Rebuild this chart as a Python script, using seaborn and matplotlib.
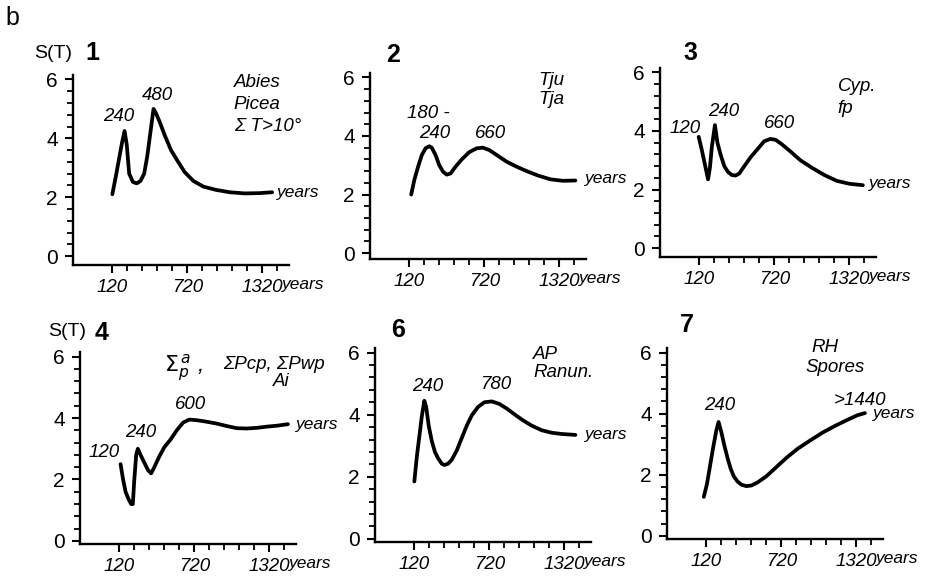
import matplotlib

matplotlib.use("Agg")

import matplotlib.pyplot as plt
import numpy as np
import seaborn as sns

# ── data: S(T) curves ──
x1 = [120, 150, 180, 200, 218, 235, 255, 285, 315, 345, 375, 400, 425, 450, 470, 500, 540, 590, 640, 700, 770, 850, 950, 1060, 1180, 1300, 1400]
y1 = [2.1, 2.75, 3.45, 3.9, 4.25, 3.8, 2.8, 2.52, 2.47, 2.55, 2.8, 3.4, 4.2, 5.0, 4.85, 4.55, 4.1, 3.6, 3.25, 2.85, 2.55, 2.36, 2.25, 2.17, 2.13, 2.14, 2.17]

x2 = [135, 160, 190, 220, 250, 280, 300, 330, 360, 390, 420, 450, 490, 540, 600, 660, 710, 760, 820, 900, 980, 1060, 1150, 1250, 1350, 1450]
y2 = [2.0, 2.5, 2.95, 3.35, 3.58, 3.65, 3.6, 3.35, 3.0, 2.78, 2.68, 2.72, 2.95, 3.2, 3.45, 3.58, 3.6, 3.52, 3.35, 3.12, 2.95, 2.8, 2.65, 2.52, 2.47, 2.48]

x3 = [115, 140, 165, 190, 205, 220, 245, 265, 290, 320, 350, 380, 410, 440, 480, 530, 590, 640, 690, 730, 780, 850, 930, 1020, 1120, 1220, 1320, 1430]
y3 = [3.8, 3.35, 2.85, 2.35, 2.75, 3.45, 4.2, 3.6, 3.2, 2.8, 2.6, 2.5, 2.48, 2.55, 2.8, 3.1, 3.4, 3.65, 3.73, 3.7, 3.55, 3.3, 3.0, 2.75, 2.5, 2.3, 2.2, 2.15]

x4 = [130, 150, 170, 195, 215, 228, 240, 255, 268, 290, 320, 350, 375, 400, 440, 480, 530, 580, 630, 680, 740, 820, 900, 980, 1060, 1140, 1220, 1300, 1380, 1470]
y4 = [2.5, 2.0, 1.6, 1.35, 1.2, 1.2, 2.0, 2.8, 3.0, 2.8, 2.55, 2.3, 2.2, 2.4, 2.75, 3.05, 3.3, 3.6, 3.85, 3.95, 3.93, 3.88, 3.82, 3.74, 3.67, 3.66, 3.68, 3.72, 3.75, 3.8]

x6 = [120, 140, 160, 180, 200, 215, 235, 260, 285, 310, 340, 360, 390, 420, 460, 500, 540, 580, 630, 680, 740, 800, 860, 920, 990, 1060, 1140, 1220, 1300, 1410]
y6 = [1.85, 2.65, 3.3, 3.95, 4.45, 4.25, 3.65, 3.15, 2.8, 2.6, 2.42, 2.38, 2.42, 2.55, 2.85, 3.25, 3.65, 3.98, 4.25, 4.4, 4.43, 4.35, 4.2, 4.02, 3.82, 3.65, 3.5, 3.42, 3.38, 3.35]

x7 = [100, 125, 150, 175, 200, 218, 240, 265, 290, 315, 340, 370, 400, 440, 480, 530, 600, 680, 760, 850, 950, 1050, 1150, 1250, 1330, 1390]
y7 = [1.28, 1.7, 2.3, 2.9, 3.45, 3.73, 3.4, 2.95, 2.55, 2.2, 1.95, 1.78, 1.68, 1.63, 1.65, 1.75, 1.95, 2.25, 2.55, 2.85, 3.12, 3.38, 3.6, 3.8, 3.95, 4.02]

x_major = [120, 720, 1320]
x_minor = [240, 360, 480, 600, 840, 960, 1080, 1200, 1440]
y_major = [0, 2, 4, 6]

W, H = 929, 579
FONT = "Liberation Sans"
IT = dict(family=FONT, style="italic", fontsize=13.5, color="black")

sns.set_theme(style="ticks")
plt.rcParams["font.family"] = [FONT, "DejaVu Sans"]
plt.rcParams["mathtext.fontset"] = "dejavusans"
plt.rcParams["text.color"] = "black"
plt.rcParams["xtick.color"] = "black"
plt.rcParams["ytick.color"] = "black"
plt.rcParams["xtick.labelcolor"] = "black"
plt.rcParams["ytick.labelcolor"] = "black"

fig = plt.figure(figsize=(W / 100, H / 100), dpi=100)
fig.patch.set_facecolor("white")


def _add_axes(left, top, bottom, width=216):
    return fig.add_axes([left / W, 1 - bottom / H, width / W, (bottom - top) / H])


def _draw_panel(ax, x, y, ybottom):
    sns.lineplot(x=x, y=y, ax=ax, color="black", linewidth=2.7, estimator=None,
                 sort=False)
    ax.lines[-1].set_solid_capstyle("round")
    ax.lines[-1].set_solid_joinstyle("round")
    ax.set_xlim(-195, 1535)
    ax.set_ylim(ybottom, 6.15)
    ax.set_facecolor("white")
    for side in ("top", "right"):
        ax.spines[side].set_visible(False)
    for side in ("left", "bottom"):
        ax.spines[side].set_linewidth(1.7)
        ax.spines[side].set_color("black")
    ax.set_xticks(x_major, [str(v) for v in x_major])
    ax.set_xticks(x_minor, minor=True)
    ax.set_yticks(y_major, [str(v) for v in y_major])
    ax.set_yticks(np.arange(0, 6.01, 0.4), minor=True)
    for lab in ax.get_xticklabels():
        lab.set_fontstyle("italic")
    ax.tick_params(axis="x", which="major", length=6, width=1.5, pad=4, labelsize=13.5,
                   direction="out")
    ax.tick_params(axis="x", which="minor", length=4, width=1.3, direction="out")
    ax.tick_params(axis="y", which="major", length=6, width=1.5, pad=5, labelsize=15,
                   direction="out")
    ax.tick_params(axis="y", which="minor", length=4, width=1.3, direction="out")
    ax.set_xlabel("")
    ax.set_ylabel("")
    ax.grid(False)
    # "years" after the 1320 tick label
    ax.annotate("years", xy=(1480, 0), xycoords=ax.get_xaxis_transform(),
                xytext=(0, -8.5), textcoords="offset points", ha="left", va="top",
                annotation_clip=False, **{**IT, "fontsize": 12.5})


def _txt(ax, x, y, s, ha="center", **kw):
    ax.text(x, y, s, ha=ha, va="center", clip_on=False, **{**IT, **kw})


# ── panel 1 ──
ax1 = _add_axes(73, 75, 265)
_draw_panel(ax1, x1, y1, -0.3)
_txt(ax1, 171, 4.73, "240")
_txt(ax1, 482, 5.46, "480")
_txt(ax1, 1093, 5.9, "Abies", ha="left")
_txt(ax1, 1093, 5.14, "Picea", ha="left")
_txt(ax1, 1093, 4.39, "Σ T>10°", ha="left")
_txt(ax1, 1440, 2.15, "years", ha="left", fontsize=12.5)

# ── panel 2 ──
ax2 = _add_axes(370, 73, 259)
_draw_panel(ax2, x2, y2, -0.2)
_txt(ax2, 272, 4.76, "180 -")
_txt(ax2, 319, 4.1, "240")
_txt(ax2, 768, 4.1, "660")
_txt(ax2, 1154, 5.9, "Tju", ha="left")
_txt(ax2, 1154, 5.24, "Tja", ha="left")
_txt(ax2, 1527, 2.54, "years", ha="left", fontsize=12.5)

# ── panel 3 ──
ax3 = _add_axes(660, 68, 257)
_draw_panel(ax3, x3, y3, -0.3)
_txt(ax3, 9, 4.08, "120")
_txt(ax3, 313, 4.67, "240")
_txt(ax3, 764, 4.26, "660")
_txt(ax3, 1227, 5.52, "Cyp.", ha="left")
_txt(ax3, 1227, 4.77, "fp", ha="left")
_txt(ax3, 1479, 2.21, "years", ha="left", fontsize=12.5)

# ── panel 4 ──
ax4 = _add_axes(80, 352, 544)
_draw_panel(ax4, x4, y4, -0.1)
_txt(ax4, 0, 2.89, "120")
_txt(ax4, 293, 3.54, "240")
_txt(ax4, 693, 4.45, "600")
_txt(ax4, 480, 5.62, r"$\Sigma_{p}^{\,a}$ ,", ha="left", fontsize=16)
_txt(ax4, 947, 5.73, "ΣPcp, ΣPwp", ha="left")
_txt(ax4, 1347, 5.2, "Ai", ha="left")
_txt(ax4, 1533, 3.8, "years", ha="left", fontsize=12.5)

# ── panel 6 ──
ax6 = _add_axes(375, 348, 542)
_draw_panel(ax6, x6, y6, -0.1)
_txt(ax6, 230, 4.92, "240")
_txt(ax6, 768, 4.97, "780")
_txt(ax6, 1072, 5.95, "AP", ha="left")
_txt(ax6, 1072, 5.35, "Ranun.", ha="left")
_txt(ax6, 1486, 3.35, "years", ha="left", fontsize=12.5)

# ── panel 7 ──
ax7 = _add_axes(667, 348, 539)
_draw_panel(ax7, x7, y7, -0.1)
_txt(ax7, 229, 4.26, "240")
_txt(ax7, 1140, 4.42, ">1440", ha="left")
_txt(ax7, 1456, 4.0, "years", ha="left", fontsize=12.5)
_txt(ax7, 958, 6.16, "RH", ha="left")
_txt(ax7, 917, 5.5, "Spores", ha="left")


# ── figure-level labels ──
def _ftxt(px, py, s, **kw):
    fig.text(px / W, 1 - py / H, s, ha="center", va="center", family=FONT,
             color="black", **kw)


_ftxt(12, 18, "b", fontsize=18)
_ftxt(53, 53, "S(T)", fontsize=14)
_ftxt(92, 53, "1", fontsize=18, fontweight="bold")
_ftxt(393, 55, "2", fontsize=18, fontweight="bold")
_ftxt(690, 53, "3", fontsize=18, fontweight="bold")
_ftxt(67, 332, "S(T)", fontsize=14)
_ftxt(102, 333, "4", fontsize=18, fontweight="bold")
_ftxt(398, 330, "6", fontsize=18, fontweight="bold")
_ftxt(687, 325, "7", fontsize=18, fontweight="bold")

fig.savefig("out.png", dpi=100, facecolor="white")
